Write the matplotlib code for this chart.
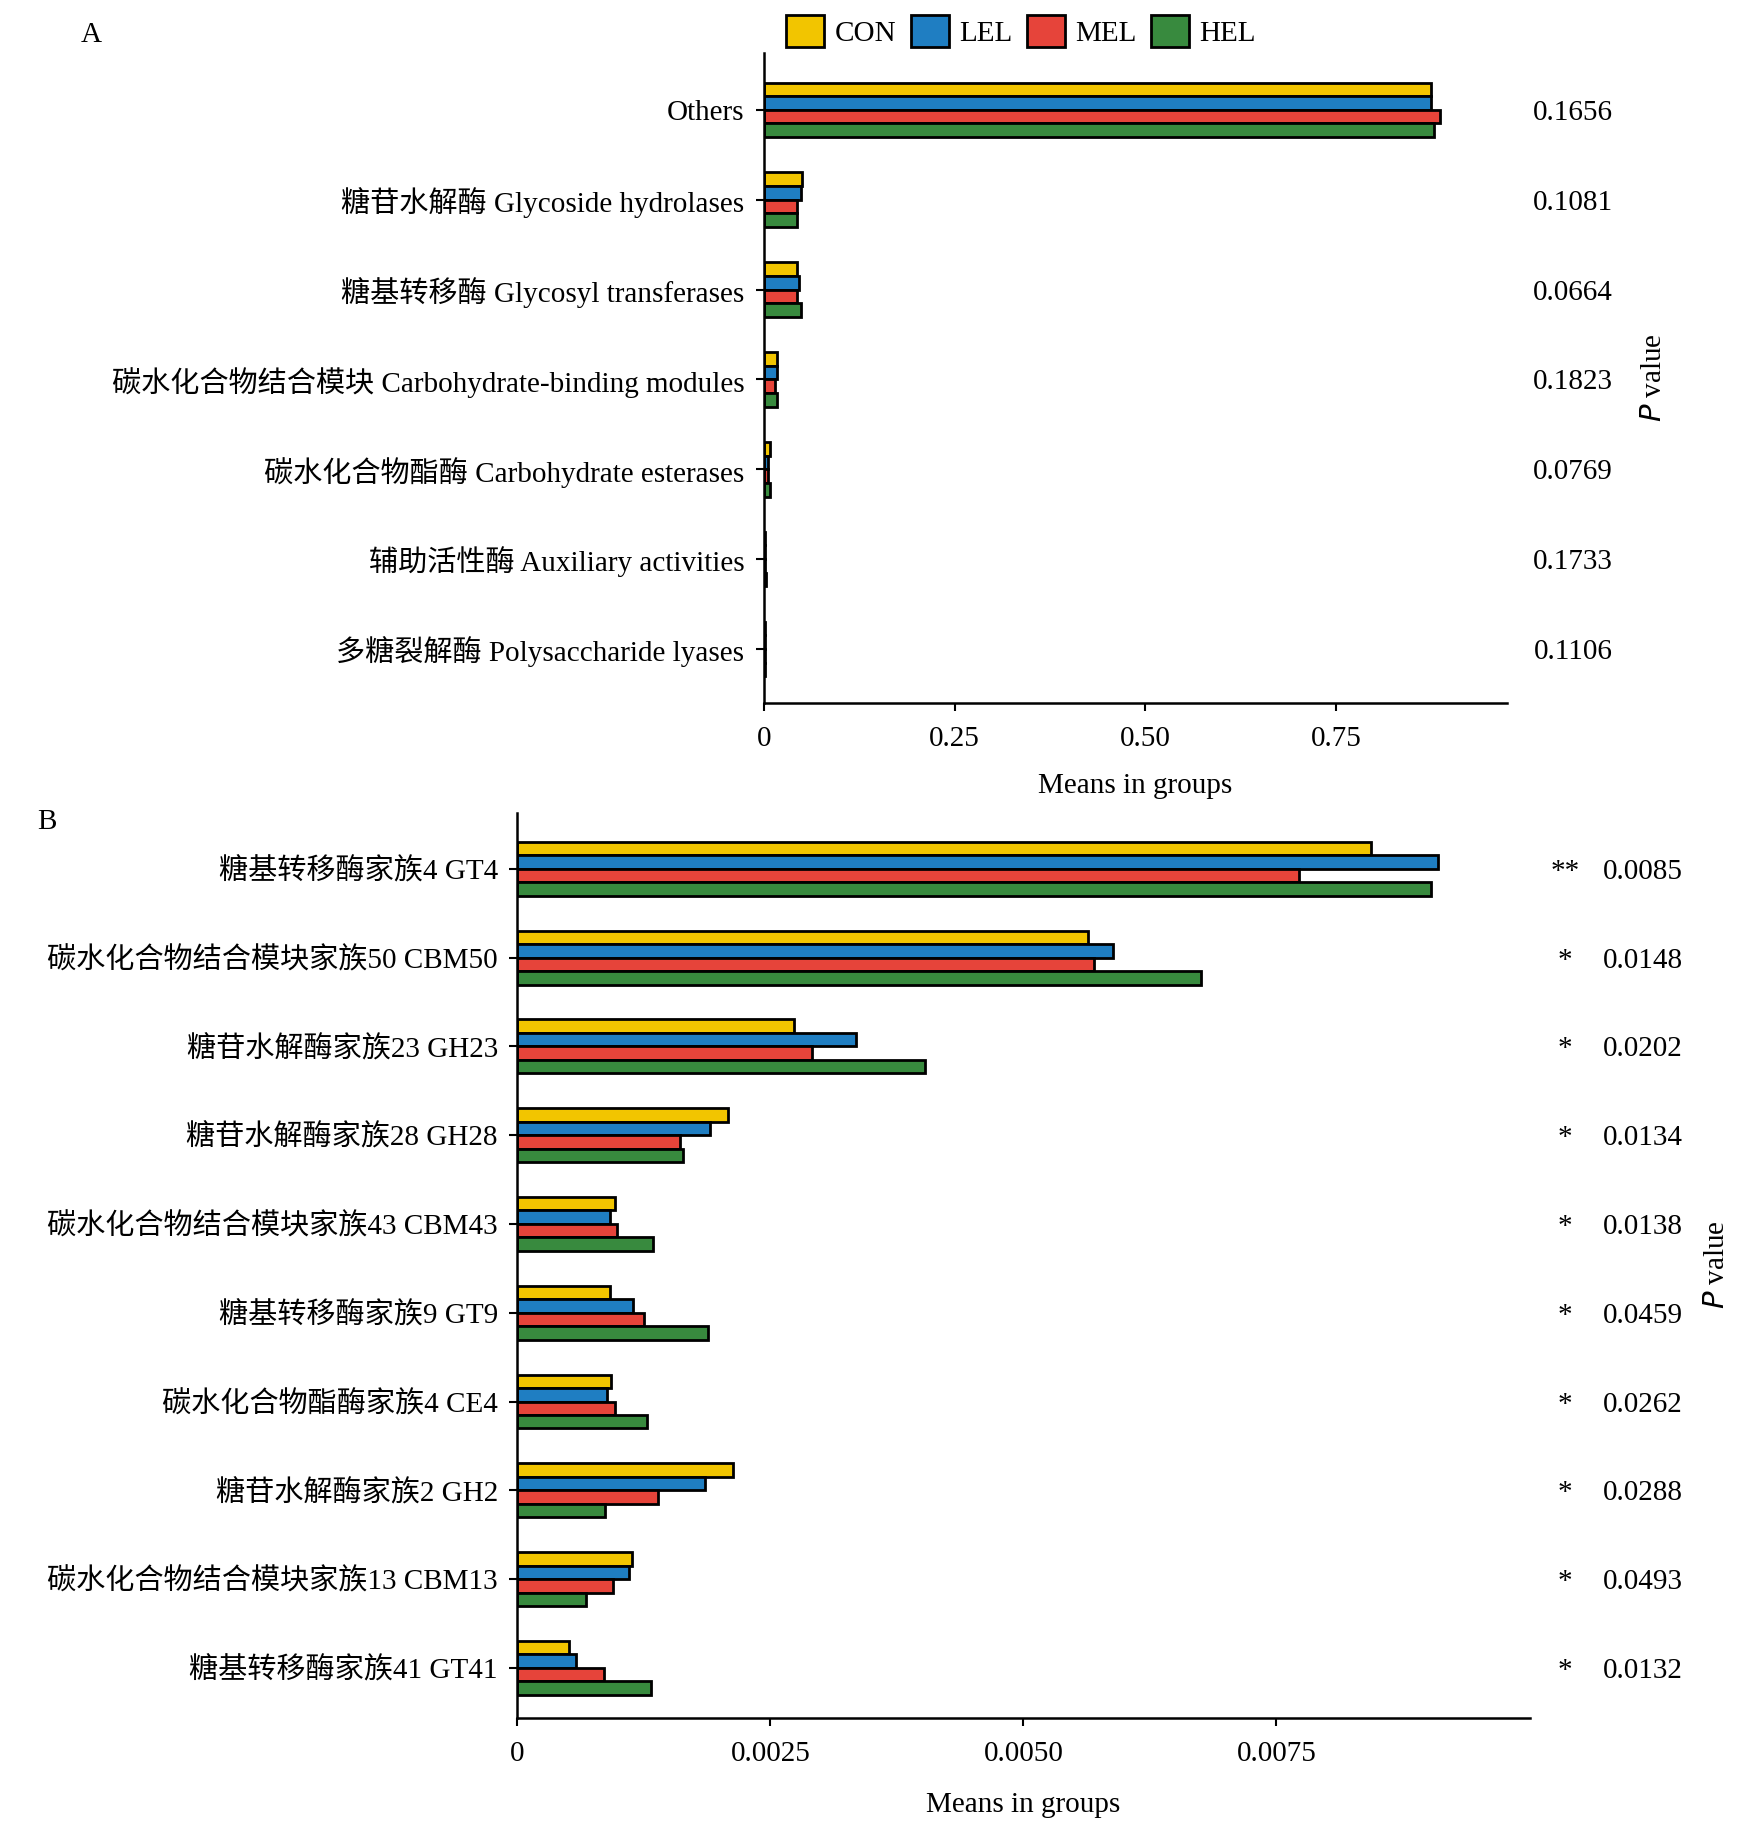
import matplotlib
matplotlib.use("Agg")
import matplotlib.pyplot as plt
import numpy as np
from matplotlib.patches import Patch

plt.rcParams['font.family'] = ['Liberation Serif', 'Noto Sans CJK SC']
plt.rcParams['font.size'] = 21

groups = ["CON", "LEL", "MEL", "HEL"]
colors = ["#F2C500", "#1F7EC2", "#E6443A", "#388A3E"]

cats_a = ["Others", "糖苷水解酶 Glycoside hydrolases", "糖基转移酶 Glycosyl transferases",
          "碳水化合物结合模块 Carbohydrate-binding modules", "碳水化合物酯酶 Carbohydrate esterases",
          "辅助活性酶 Auxiliary activities", "多糖裂解酶 Polysaccharide lyases"]
con_a = [0.875, 0.050, 0.043, 0.017, 0.008, 0.0015, 0.0012]
lel_a = [0.875, 0.049, 0.046, 0.017, 0.006, 0.0012, 0.0015]
mel_a = [0.887, 0.043, 0.043, 0.015, 0.006, 0.0012, 0.0012]
hel_a = [0.878, 0.044, 0.049, 0.017, 0.008, 0.0025, 0.0015]
p_a = ["0.1656", "0.1081", "0.0664", "0.1823", "0.0769", "0.1733", "0.1106"]
sig_a = ["", "", "", "", "", "", ""]

cats_b = ["糖基转移酶家族4 GT4", "碳水化合物结合模块家族50 CBM50", "糖苷水解酶家族23 GH23",
          "糖苷水解酶家族28 GH28", "碳水化合物结合模块家族43 CBM43", "糖基转移酶家族9 GT9",
          "碳水化合物酯酶家族4 CE4", "糖苷水解酶家族2 GH2", "碳水化合物结合模块家族13 CBM13",
          "糖基转移酶家族41 GT41"]
con_b = [0.00843, 0.00564, 0.00273, 0.00208, 0.00096, 0.00091, 0.00092, 0.00213, 0.00113, 0.00051]
lel_b = [0.00910, 0.00588, 0.00335, 0.00190, 0.00091, 0.00114, 0.00089, 0.00185, 0.00110, 0.00058]
mel_b = [0.00772, 0.00570, 0.00291, 0.00161, 0.00098, 0.00125, 0.00096, 0.00139, 0.00094, 0.00086]
hel_b = [0.00903, 0.00675, 0.00403, 0.00164, 0.00134, 0.00188, 0.00128, 0.00087, 0.00068, 0.00132]
p_b = ["0.0085", "0.0148", "0.0202", "0.0134", "0.0138", "0.0459", "0.0262", "0.0288", "0.0493", "0.0132"]
sig_b = ["**", "*", "*", "*", "*", "*", "*", "*", "*", "*"]

fig = plt.figure(figsize=(17.48, 18.35), dpi=100)

def panel(rect, cats, series, xlim, ticks, ticklabels, pvals, sigs, px, sx, plabel_x, plabel_y,
          top_m, bot_m, labelpad):
    ax = fig.add_axes(rect)
    n = len(cats)
    y = np.arange(n)[::-1].astype(float)
    h = 0.152
    for k, (vals, c) in enumerate(zip(series, colors)):
        off = (1.5 - k) * h
        ax.barh(y + off, vals, height=h, color=c, edgecolor="black", linewidth=2.0)
    ax.set_ylim(-bot_m, n - 1 + top_m)
    ax.set_xlim(*xlim)
    ax.set_yticks(y)
    ax.set_yticklabels(cats)
    ax.set_xticks(ticks)
    ax.set_xticklabels(ticklabels)
    ax.set_xlabel("Means in groups", labelpad=labelpad)
    for s in ["top", "right"]:
        ax.spines[s].set_visible(False)
    for s in ["left", "bottom"]:
        ax.spines[s].set_linewidth(1.8)
    ax.tick_params(axis="both", width=1.5, length=6, pad=8)
    ax.tick_params(axis="x", pad=11)
    for yi, pv, sg in zip(y, pvals, sigs):
        ax.text(px, yi, pv, transform=ax.get_yaxis_transform(), ha="center", va="center_baseline")
        if sg:
            ax.text(sx, yi, sg, transform=ax.get_yaxis_transform(), ha="center", va="center_baseline")
    fig.text(plabel_x, plabel_y, "$\\it{P}$ value", rotation=90, ha="center", va="center",
             family="Liberation Serif")
    return ax

axA = panel([0.437, 0.617, 0.425, 0.354], cats_a, [con_a, lel_a, mel_a, hel_a],
            (0, 0.974), [0, 0.25, 0.5, 0.75], ["0", "0.25", "0.50", "0.75"],
            p_a, sig_a, 1.089, 1.0, 0.946, 0.794, 0.63, 0.6, 15)
axB = panel([0.296, 0.064, 0.579, 0.493], cats_b, [con_b, lel_b, mel_b, hel_b],
            (0, 0.0100), [0, 0.0025, 0.005, 0.0075], ["0", "0.0025", "0.0050", "0.0075"],
            p_b, sig_b, 1.112, 1.035, 0.982, 0.311, 0.63, 0.56, 18)

fig.text(0.052, 0.981, "A", ha="center", va="center")
fig.text(0.027, 0.552, "B", ha="center", va="center")

handles = [Patch(facecolor=c, edgecolor="black", linewidth=2.0, label=g) for g, c in zip(groups, colors)]
fig.legend(handles=handles, loc="center", bbox_to_anchor=(0.584, 0.983), ncol=4, frameon=False,
           handlelength=1.3, handleheight=1.3, handletextpad=0.35, columnspacing=0.5)

fig.savefig("out.png", dpi=100)
